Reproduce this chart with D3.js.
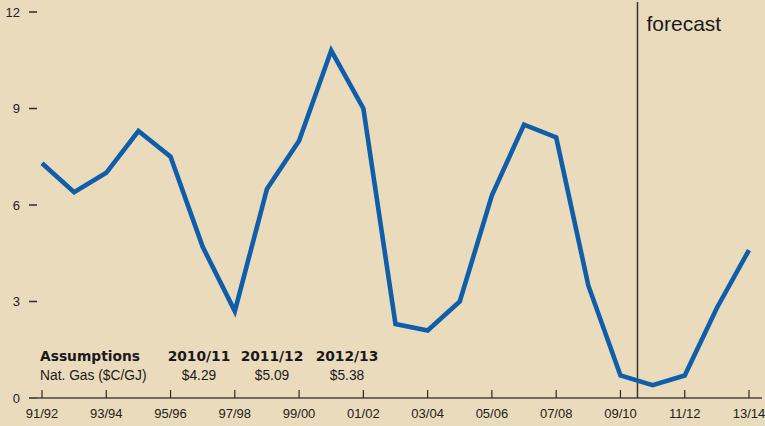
<!DOCTYPE html>
<html><head><meta charset="utf-8">
<script src="https://cdn.jsdelivr.net/npm/d3@7"></script>
<style>
html,body{margin:0;padding:0;background:#EBDBBD;}
svg{display:block;font-family:"Liberation Sans",Arial,sans-serif;}
</style></head><body>
<svg id="chart" width="765" height="426"></svg>
<script>
const years = ["91/92","92/93","93/94","94/95","95/96","96/97","97/98","98/99","99/00","00/01","01/02","02/03","03/04","04/05","05/06","06/07","07/08","08/09","09/10","10/11","11/12","12/13","13/14"];
const values = [7.3,6.4,7.0,8.3,7.5,4.7,2.7,6.5,8.0,10.8,9.0,2.3,2.1,3.0,6.3,8.5,8.1,3.5,0.7,0.4,0.7,2.8,4.6];
const tickLabels = ["91/92","93/94","95/96","97/98","99/00","01/02","03/04","05/06","07/08","09/10","11/12","13/14"];
const yTicks = [0,3,6,9,12];
const assumptionYears = ["2010/11","2011/12","2012/13"];
const gasPrices = ["$4.29","$5.09","$5.38"];
const forecastStart = 18.53; // index position of the forecast divider

const svg = d3.select("#chart");
const x = d3.scalePoint().domain(years).range([42,749]);
const xi = d3.scaleLinear().domain([0,years.length-1]).range([42,749]);
const y = d3.scaleLinear().domain([0,12]).range([398,12]);

// y axis ticks
const yg = svg.append("g");
yTicks.forEach(t=>{
  yg.append("line").attr("x1",29).attr("x2",37).attr("y1",y(t)).attr("y2",y(t))
    .attr("stroke","#2a2a2a").attr("stroke-width",1.5);
  yg.append("text").attr("x",20).attr("y",y(t)).attr("dy","0.35em")
    .attr("text-anchor","end").attr("font-size",13).attr("fill","#222").text(t);
});

// x axis
svg.append("line").attr("x1",37).attr("x2",762).attr("y1",y(0)).attr("y2",y(0))
  .attr("stroke","#4a4440").attr("stroke-width",1.6);
const xg = svg.append("g");
tickLabels.forEach(l=>{
  xg.append("line").attr("x1",x(l)).attr("x2",x(l)).attr("y1",y(0)-8).attr("y2",y(0))
    .attr("stroke","#2a2a2a").attr("stroke-width",1.2);
  xg.append("text").attr("x",x(l)).attr("y",418).attr("text-anchor","middle")
    .attr("font-size",13).attr("fill","#222").text(l);
});

// forecast line
svg.append("line").attr("x1",xi(forecastStart)).attr("x2",xi(forecastStart))
  .attr("y1",2).attr("y2",y(0)).attr("stroke","#3a3430").attr("stroke-width",1.5);
svg.append("text").attr("x",xi(forecastStart)+9).attr("y",31).attr("font-size",21)
  .attr("fill","#1a1a1a").text("forecast");

// data line
const line = d3.line().x((d,i)=>x(years[i])).y(d=>y(d));
svg.append("path").datum(values).attr("d",line).attr("fill","none")
  .attr("stroke","#0F5EA9").attr("stroke-width",4.6).attr("stroke-linejoin","miter");

// assumptions
const ag = svg.append("g").attr("fill","#1a1a1a").attr("font-size",14);
ag.append("text").attr("x",40).attr("y",361).attr("font-weight","900")
  .attr("font-family","'DejaVu Sans',sans-serif").attr("font-size",13.8).text("Assumptions");
const colX = [199,272,347];
assumptionYears.forEach((a,i)=>{
  ag.append("text").attr("x",colX[i]).attr("y",361).attr("text-anchor","middle")
    .attr("font-weight","900").attr("font-family","'DejaVu Sans',sans-serif").attr("font-size",13.8).text(a);
});
ag.append("text").attr("x",40).attr("y",380).attr("font-size",13.8).text("Nat. Gas ($C/GJ)");
gasPrices.forEach((p,i)=>{
  ag.append("text").attr("x",colX[i]).attr("y",380).attr("text-anchor","middle")
    .attr("font-size",13.8).text(p);
});
</script>
</body></html>
